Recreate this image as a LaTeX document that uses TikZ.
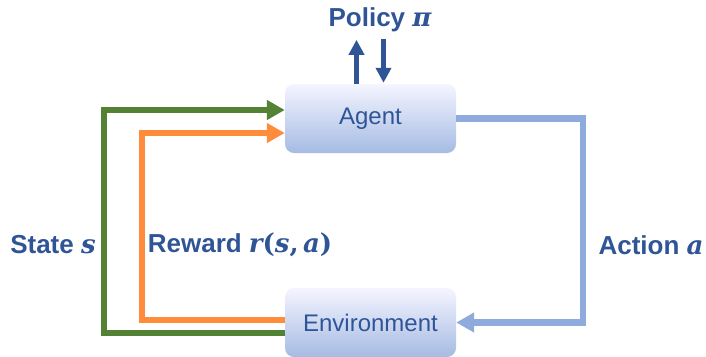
\documentclass[tikz,border=0pt]{standalone}
\usepackage{fontspec}
\setmainfont{Liberation Sans}
\newfontfamily\mathserif{DejaVu Serif}
\usetikzlibrary{arrows.meta,shapes}
\definecolor{dkblue}{HTML}{2F5597}
\definecolor{ltblue}{HTML}{8FAADC}
\definecolor{stgreen}{HTML}{548235}
\definecolor{rworange}{HTML}{FF8C3A}
\newcommand{\mvar}[1]{{\mathserif\bfseries\itshape #1}}
\newcommand{\mpar}[1]{{\mathserif\bfseries #1}}

\begin{document}
\begin{tikzpicture}[x=1pt,y=-1pt]
	\tikzset{box/.style={rounded corners=9pt,minimum width=171pt,minimum height=69pt,top color=blue!4!white,bottom color=ltblue!80!white,text=dkblue,font=\fontsize{24}{28}\selectfont}}
	\tikzset{lbl/.style={text=dkblue,font=\fontsize{26}{30}\selectfont\bfseries}}
	\tikzset{loop/.style={line width=6.5pt,-{Triangle[length=18pt,width=19pt]}}}
	\tikzset{pol/.style={dkblue,line width=4.5pt,-{Triangle[length=15pt,width=15pt]}}}
	\useasboundingbox (0,0) rectangle (706,356);
	\node[box] (agent) at (370.5,118.5) {Agent};
	\node[box] (env) at (370.5,322.5) {Environment};
	\node[lbl] (policy) at (380,20) {Policy \mvar{π}};
	\node[lbl] (state) at (53,245) {State \mvar{s}};
	\node[lbl] (reward) at (240,245) {Reward \mvar{r}\mpar{(}\mvar{s}\mpar{,}\,\mvar{a}\mpar{)}};
	\node[lbl] (action) at (651,245) {Action \mvar{a}};
	% policy in and out
	\draw[pol] ([xshift=-14pt]agent.north) -- ++(0,-44);
	\draw[pol] ([xshift=13pt,yshift=45pt]agent.north) -- ++(0,44);
	% loop
	\draw[loop,stgreen] ([yshift=-10.5pt]env.west) -| (104,110) -- ([yshift=8.5pt]agent.west);
	\draw[loop,rworange] ([yshift=2.5pt]env.west) -| (142,133) -- ([yshift=-14.5pt]agent.west);
	\draw[loop,ltblue] (agent.east) -| (583,322.5) -- (env.east);
\end{tikzpicture}
\end{document}
